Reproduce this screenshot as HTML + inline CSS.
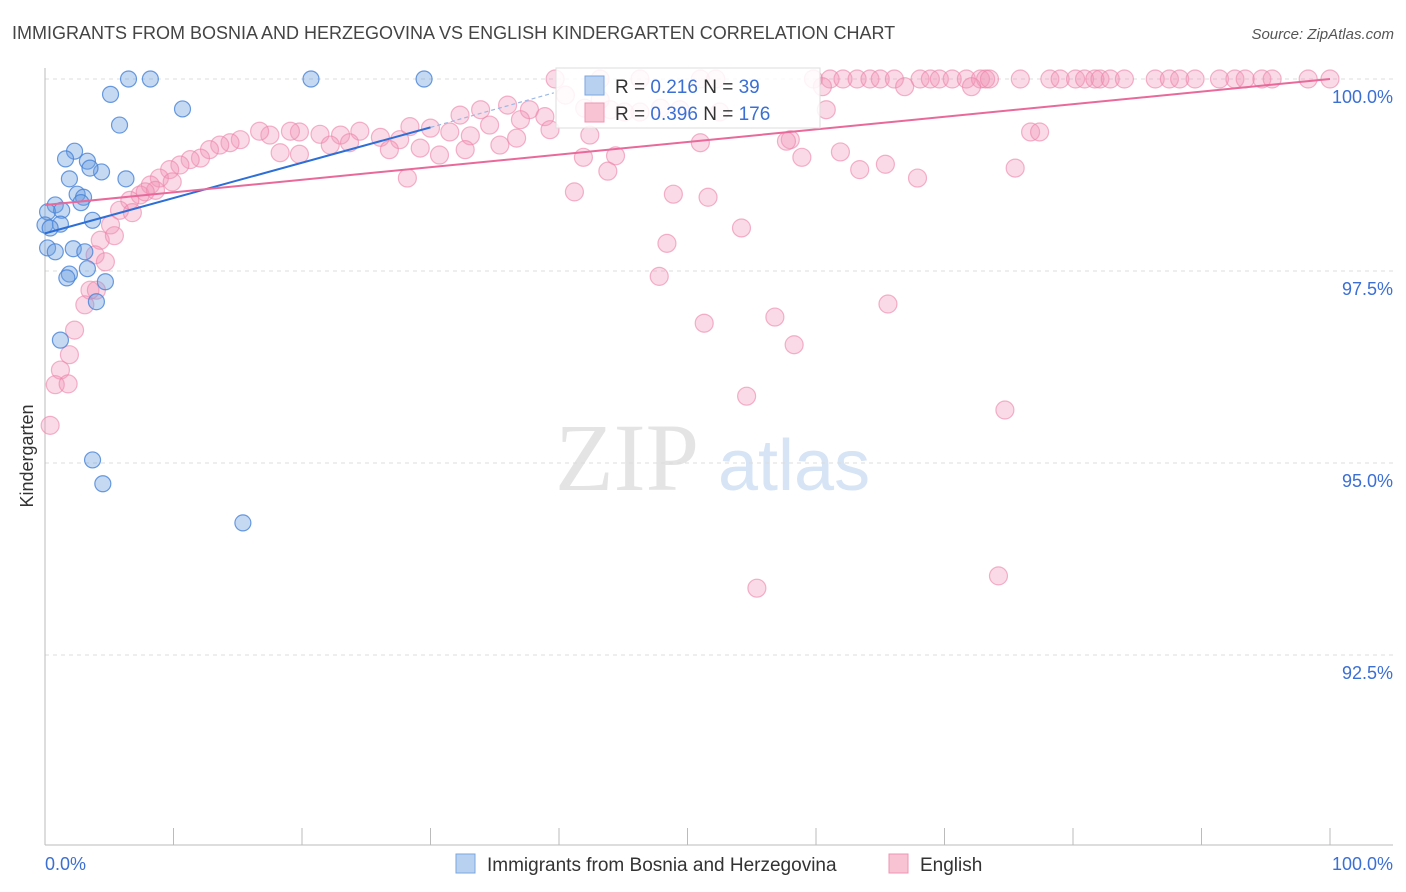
<!DOCTYPE html>
<html><head><meta charset="utf-8"><style>
body{margin:0;background:#fff;font-family:"Liberation Sans",sans-serif;}
svg{display:block}
</style></head><body>
<svg id="chart" width="1406" height="892" viewBox="0 0 1406 892" xmlns="http://www.w3.org/2000/svg">
<text x="12" y="39" font-size="18" fill="#444">IMMIGRANTS FROM BOSNIA AND HERZEGOVINA VS ENGLISH KINDERGARTEN CORRELATION CHART</text>
<text x="1394" y="39" font-size="15" fill="#555" text-anchor="end" font-style="italic">Source: ZipAtlas.com</text>
<text x="555" y="490" font-size="96" fill="#e4e4e4" font-family="Liberation Serif,serif">ZIP</text>
<text x="718" y="490" font-size="72" fill="#d6e4f5">atlas</text>
<text transform="translate(33,456) rotate(-90)" font-size="18" fill="#333" text-anchor="middle">Kindergarten</text>
<g id="grid"></g><g id="axes"></g><g id="marks"></g>
<g>
<rect x="556" y="68" width="264" height="60" fill="#fff" fill-opacity="0.85" stroke="#ddd"/>
<rect x="585" y="76" width="19" height="19" fill="#b9d1f1" stroke="#7aa6e0"/>
<text x="615" y="93" font-size="19" fill="#333">R = <tspan fill="#3b6fd4">0.216</tspan>   N = <tspan fill="#3b6fd4">39</tspan></text>
<rect x="585" y="103" width="19" height="19" fill="#f8c4d4" stroke="#ee94b2"/>
<text x="615" y="120" font-size="19" fill="#333">R = <tspan fill="#3b6fd4">0.396</tspan>   N = <tspan fill="#3b6fd4">176</tspan></text>
</g>
<g>
<rect x="456" y="854" width="19" height="19" fill="#b9d1f1" stroke="#7aa6e0"/>
<text x="487" y="871" font-size="19" fill="#333">Immigrants from Bosnia and Herzegovina</text>
<rect x="889" y="854" width="19" height="19" fill="#f8c4d4" stroke="#ee94b2"/>
<text x="920" y="871" font-size="19" fill="#333">English</text>
</g>
</svg>
<script>
const yTicks=[100,97.5,95,92.5];
const yTickLabels=["100.0%","97.5%","95.0%","92.5%"];
const xTickLabels=["0.0%","100.0%"];
const blueX=[6.5,8.2,20.7,29.5,5.1,10.7,5.8,2.3,1.6,3.3,4.4,3.5,1.9,6.3,2.5,3.0,0.8,2.8,0.2,1.3,3.7,0,1.2,0.4,0.2,2.2,3.1,0.8,3.3,1.9,1.7,4.7,4.0,1.2,3.7,4.5,15.4];
const blueY=[100,100,100,100,99.80,99.61,99.40,99.06,98.96,98.93,98.79,98.84,98.70,98.70,98.50,98.46,98.36,98.39,98.27,98.29,98.16,98.10,98.11,98.06,97.80,97.79,97.75,97.75,97.53,97.46,97.41,97.36,97.10,96.60,95.04,94.73,94.22];
const pinkX=[39.7,43.2,46.3,51.0,52.2,59.8,61.1,62.1,63.2,64.2,65.0,66.1,68.1,68.9,69.6,70.6,71.7,72.8,73.2,73.5,75.9,78.2,79.0,80.2,80.9,81.7,82.1,82.9,84.0,86.4,87.5,88.3,89.5,91.4,92.6,93.4,94.7,95.5,98.3,100,
66.9,72.1,60.5,40.5,43.2,42.0,44.0,46.3,47.9,49.4,52.5,60.8,36.0,37.7,38.9,32.3,33.9,34.6,37.0,39.3,42.4,51.0,58.0,45.1,30.0,28.4,31.5,33.1,27.6,26.1,24.5,23.0,21.4,19.8,19.1,17.5,16.7,15.2,14.4,13.6,12.8,12.1,11.3,10.5,9.7,8.9,8.2,7.4,6.6,5.8,5.1,4.3,3.9,3.5,3.1,2.3,1.9,1.2,0.8,0.4,19.8,18.3,22.2,23.7,26.8,29.2,30.7,32.7,35.4,36.7,41.9,44.4,43.8,41.2,48.9,51.6,48.4,54.2,47.8,51.3,56.8,58.3,65.6,54.6,74.7,55.4,74.2,76.7,77.4,75.5,65.4,63.4,67.9,61.9,58.9,57.7,28.2,9.9,8.6,7.8,6.8,5.4,4.7,4.0,1.8];
const pinkY=[100,100,100,100,100,100,100,100,100,100,100,100,100,100,100,100,100,100,100,100,100,100,100,100,100,100,100,100,100,100,100,100,100,100,100,100,100,100,100,100,
99.90,99.90,99.90,99.79,99.73,99.62,99.60,99.57,99.62,99.60,99.57,99.60,99.66,99.60,99.51,99.53,99.60,99.40,99.47,99.34,99.27,99.17,99.21,99.57,99.36,99.38,99.31,99.26,99.21,99.24,99.32,99.27,99.28,99.31,99.32,99.27,99.32,99.21,99.17,99.14,99.08,98.97,98.95,98.88,98.82,98.71,98.62,98.49,98.42,98.29,98.10,97.90,97.71,97.25,97.06,96.73,96.41,96.21,96.02,95.49,99.02,99.04,99.14,99.17,99.08,99.10,99.01,99.08,99.14,99.23,98.98,99.00,98.80,98.53,98.50,98.46,97.86,98.06,97.43,96.82,96.90,96.54,97.07,95.87,95.69,93.37,93.53,99.31,99.31,98.84,98.89,98.82,98.71,99.05,98.98,99.19,98.71,98.66,98.55,98.53,98.26,97.96,97.62,97.25,96.03];
const blueTrend=[0,97.99,30,99.37,39.6,99.82];
const pinkTrend=[0,98.36,100,100];
const NS="http://www.w3.org/2000/svg";
const X=v=>45+v*12.85, Y=v=>79+(100-v)*76.8;
function mk(t,a,p){const e=document.createElementNS(NS,t);for(const k in a)e.setAttribute(k,a[k]);p.appendChild(e);return e;}
const grid=document.getElementById('grid'),axes=document.getElementById('axes'),marks=document.getElementById('marks');
yTicks.forEach((t,i)=>{
 const l=mk('line',{x1:45,x2:1393,y1:Y(t),y2:Y(t),stroke:'#dcdcdc','stroke-dasharray':'4,4'},grid);
 
 
 const tx=mk('text',{x:1393,y:Y(t)+24,'font-size':18,fill:'#3b6fd4','text-anchor':'end'},axes);
 tx.textContent=yTickLabels[i];
 
 
});
let ax=mk('line',{x1:45,x2:1393,y1:845,y2:845,stroke:'#bbb'},axes);


ax=mk('line',{x1:45,x2:45,y1:68,y2:845,stroke:'#bbb'},axes);


for(let i=0;i<=10;i++){const t=mk('line',{x1:X(i*10),x2:X(i*10),y1:828,y2:845,stroke:'#bbb'},axes);
 
 }
[[0,'start',45],[100,'end',1393]].forEach((d,i)=>{const t=mk('text',{x:d[2],y:870,'font-size':18,fill:'#3b6fd4','text-anchor':d[1]},axes);t.textContent=xTickLabels[i];
 
 });
pinkX.forEach((x,i)=>{const c=mk('circle',{cx:X(x),cy:Y(pinkY[i]),r:9,fill:'rgba(242,150,182,0.35)',stroke:'rgba(236,130,168,0.6)','stroke-width':1.2},marks);
 
 });
blueX.forEach((x,i)=>{const c=mk('circle',{cx:X(x),cy:Y(blueY[i]),r:8,fill:'rgba(110,160,225,0.4)',stroke:'rgba(70,130,215,0.8)','stroke-width':1.2},marks);
 
 });
let tl=mk('line',{x1:X(blueTrend[0]),y1:Y(blueTrend[1]),x2:X(blueTrend[2]),y2:Y(blueTrend[3]),stroke:'#2d6fd6','stroke-width':2},marks);


tl=mk('line',{x1:X(blueTrend[2]),y1:Y(blueTrend[3]),x2:X(blueTrend[4]),y2:Y(blueTrend[5]),stroke:'#9bb8e6','stroke-width':1.2,'stroke-dasharray':'4,3'},marks);


tl=mk('line',{x1:X(pinkTrend[0]),y1:Y(pinkTrend[1]),x2:X(pinkTrend[2]),y2:Y(pinkTrend[3]),stroke:'#e8699a','stroke-width':2},marks);


</script>
</body></html>
